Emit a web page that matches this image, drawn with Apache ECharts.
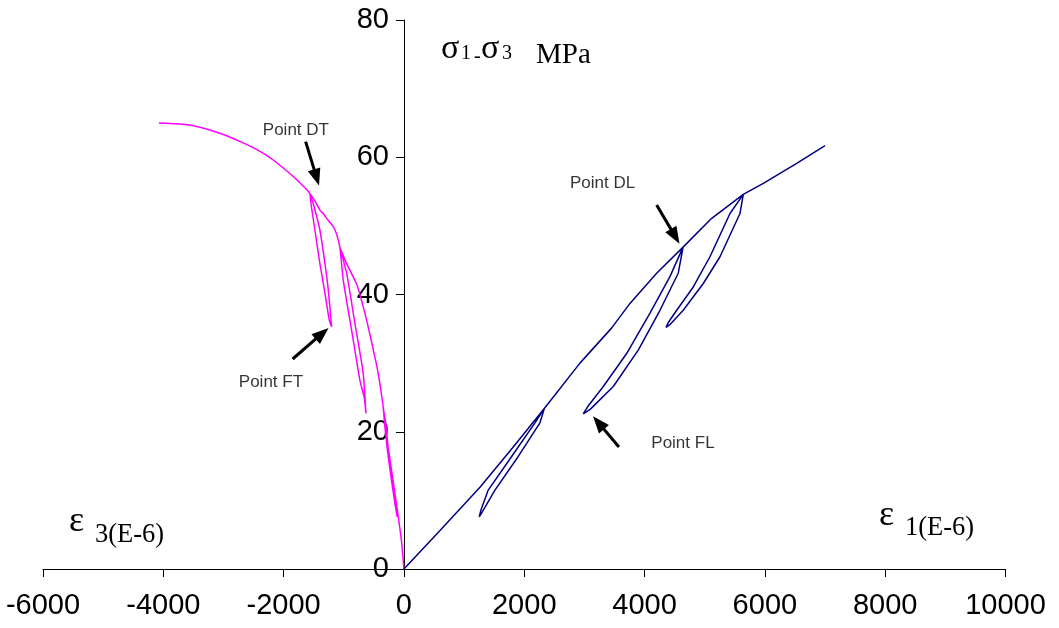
<!DOCTYPE html>
<html><head><meta charset="utf-8">
<script src="https://cdn.jsdelivr.net/npm/echarts@6/dist/echarts.min.js"></script>
<style>html,body{margin:0;padding:0;background:#fff}#c{width:1059px;height:628px}</style>
</head><body><div id="c"></div>
<script>
// Axis ticks
const xTicks = [-6000, -4000, -2000, 0, 2000, 4000, 6000, 8000, 10000];
const yTicks = [0, 20, 40, 60, 80];

// ε1 (axial strain, E-6) vs σ1-σ3 (MPa)
const eps1 = [
  [0,0],[600,5.6],[1264,11.9],[1800,17.6],[2333,23.4],
  [2261,21.3],[1900,16.4],[1513,11.5],[1300,8.3],[1252,7.6],
  [1280,8.6],[1401,11.5],[1790,16.4],[2178,21.3],[2333,23.4],
  [2926,30.0],[3451,35.1],[3757,38.7],[4201,43.1],[4640,46.9],
  [4560,43.1],[4256,37.7],[3895,31.9],[3480,26.6],[3100,23.3],[2981,22.6],
  [3050,23.6],[3314,26.6],[3702,31.4],[4090,37.3],[4422,42.6],[4640,46.9],
  [5116,51.1],[5641,54.6],
  [5586,51.8],[5254,45.5],[4976,41.6],[4643,37.7],[4420,35.6],[4356,35.2],
  [4400,36.0],[4534,37.7],[4810,41.1],[5087,45.5],[5420,51.8],[5641,54.6],
  [5974,56.2],[6529,59.1],[7000,61.7]
];

// ε3 (lateral strain, E-6) vs σ1-σ3 (MPa)
const eps3 = [
  [0,0],[-40,4],[-100,8],[-150,11],[-200,14],[-250,17],[-300,20],[-344,23.5],
  [-300,21],[-244,16],[-190,12],[-130,8.5],[-110,7.6],
  [-140,9],[-200,12.5],[-270,17],[-320,21],[-344,23.5],
  [-400,27],[-454,29.7],[-600,35.5],[-700,39],[-786,41.5],[-953,44.5],[-1064,46.8],
  [-953,43.1],[-815,35.8],[-677,28.5],[-632,22.7],
  [-660,25],[-732,27.5],[-870,34.8],[-1009,42.1],[-1064,46.8],
  [-1120,48.8],[-1175,49.9],[-1230,50.5],[-1285,51.1],[-1340,51.8],[-1397,52.3],[-1470,53.5],[-1563,54.7],
  [-1500,53],[-1397,49.4],[-1313,44.5],[-1258,40.7],[-1202,35.3],
  [-1242,36.3],[-1313,40.2],[-1397,44.5],[-1480,49.4],[-1550,53.5],[-1563,54.7],
  [-1618,55.3],[-1840,57.2],[-2173,59.6],[-2420,61.0],[-2672,62.1],[-3059,63.5],[-3558,64.7],[-4073,65.0]
];

// Annotations
const annoNames = ['Point DT', 'Point FT', 'Point DL', 'Point FL'];
const annoLabelAt = [[-1796,63.97],[-2211,27.25],[3303,56.15],[4638,18.36]];
const annoArrowFrom = [[-1634,62.27],[-1850,30.6],[4201,53.04],[3574,17.78]];
const annoArrowTo = [[-1453,57.06],[-1360,34.32],[4509,48.47],[3234,21.3]];

const W = 1059, H = 628;
const gridL = 43, gridR = 53.5, gridT = 20, gridB = 59;
const xMin = xTicks[0], xMax = xTicks[xTicks.length-1];
// shift the y axis so it sits on x = 0 (labels follow)
const yAxisOffset = -((0 - xMin) / (xMax - xMin)) * (W - gridL - gridR);

const chart = echarts.init(document.getElementById('c'), null, {renderer:'canvas'});
const sans = 'Liberation Sans, Arial, sans-serif';
const serif = 'Liberation Serif, Times New Roman, serif';

function t(x, y, text, size){
  return {type:'text', x:x, y:y, silent:true,
    style:{text:text, font: size + 'px ' + serif, fill:'#000', textAlign:'left', textVerticalAlign:'middle'}};
}

chart.setOption({
  animation:false,
  backgroundColor:'#fff',
  grid:{left:gridL, right:gridR, top:gridT, bottom:gridB, containLabel:false, outerBoundsMode:'none'},
  xAxis:{type:'value', min:xMin, max:xMax, interval:xTicks[1]-xTicks[0],
    axisLine:{show:true, onZero:false, lineStyle:{color:'#000', width:1}},
    axisTick:{show:true, inside:false, length:8, lineStyle:{color:'#000'}},
    axisLabel:{color:'#000', fontSize:29, fontFamily:sans, margin:22, formatter:(v)=>String(v)},
    splitLine:{show:false}},
  yAxis:{type:'value', min:yTicks[0], max:yTicks[yTicks.length-1], interval:yTicks[1]-yTicks[0],
    position:'left', offset:yAxisOffset,
    axisLine:{show:true, onZero:false, lineStyle:{color:'#000', width:1}},
    axisTick:{show:true, inside:false, length:8, lineStyle:{color:'#000'}},
    axisLabel:{color:'#000', fontSize:29, fontFamily:sans, margin:15, formatter:(v)=>String(v)},
    splitLine:{show:false}},
  series:[
    {type:'line', name:'eps3', data:eps3, showSymbol:false, symbol:'none', smooth:0.2,
      lineStyle:{color:'#FF00FF', width:1.5}, z:3},
    {type:'line', name:'eps1', data:eps1, showSymbol:false, symbol:'none', smooth:false,
      lineStyle:{color:'#000080', width:1.5}, z:3},
    {type:'scatter', name:'anno', silent:true, symbolSize:1, itemStyle:{color:'rgba(0,0,0,0)'},
      data: annoNames.map((n,i)=>({name:n, value:annoLabelAt[i]})),
      label:{show:true, position:'inside', formatter:'{b}', color:'#000', fontSize:17, fontFamily:sans},
      markLine:{silent:true, animation:false, symbol:['none','triangle'], symbolSize:[13,17],
        label:{show:false}, lineStyle:{color:'#000', width:3, type:'solid'},
        emphasis:{disabled:true},
        data: annoArrowFrom.map((f,i)=>[{coord:f},{coord:annoArrowTo[i]}])},
      z:5}
  ],
  graphic:[
    t(441, 48.8, 'σ', 34), t(461, 53.4, '1', 20), t(474, 56.4, '-', 20),
    t(481, 48.8, 'σ', 34), t(502, 53.4, '3', 20), t(536, 55.4, 'MPa', 29),
    t(69, 522, 'ε', 36), t(95, 535, '3(E-6)', 26.5),
    t(879, 516, 'ε', 36), t(905, 528, '1(E-6)', 26.5)
  ]
});
</script>
</body></html>
